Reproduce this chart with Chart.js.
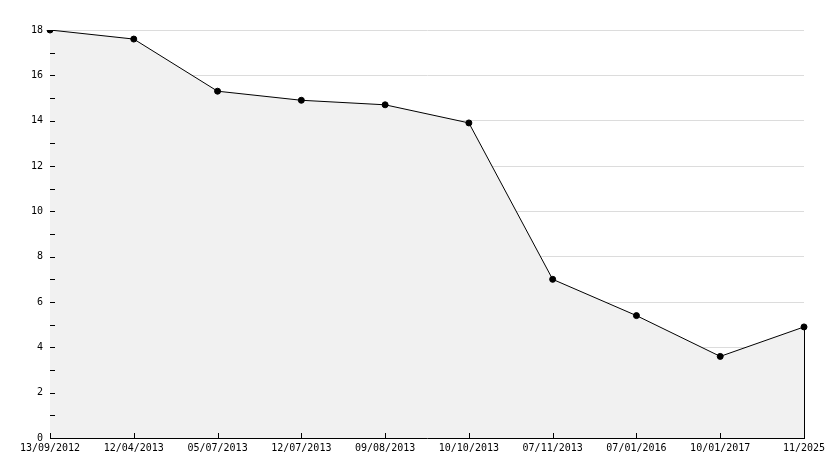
<!DOCTYPE html>
<html>
<head>
<meta charset="utf-8">
<script src="https://cdn.jsdelivr.net/npm/chart.js@4"></script>
<style>
  html, body { margin: 0; padding: 0; background: #fff; }
  #wrap { width: 834px; height: 468px; }
</style>
</head>
<body>
<div id="wrap"><canvas id="Grafico"></canvas></div>
<script>
'use strict';
// dados
const datas = ['13/09/2012', '12/04/2013', '05/07/2013', '12/07/2013', '09/08/2013',
  '10/10/2013', '07/11/2013', '07/01/2016', '10/01/2017', '11/2025'];
const valores = [18, 17.6, 15.3, 14.9, 14.7, 13.9, 7.0, 5.4, 3.6, 4.9];
const yMin = 0;
const yMax = 18;

const fonte = { family: 'DejaVu Sans Mono', size: 10 };

// tracinhos para dentro e linha final da area
const tracos = {
  id: 'tracos',
  afterDatasetsDraw(chart) {
    const ctx = chart.ctx;
    const x = chart.scales.x, y = chart.scales.y;
    const area = chart.chartArea;
    ctx.save();
    ctx.strokeStyle = '#000';
    ctx.lineWidth = 1;
    ctx.beginPath();
    y.ticks.forEach((t, i) => {
      const py = Math.round(y.getPixelForValue(t.value)) + 0.5;
      ctx.moveTo(area.left, py);
      ctx.lineTo(area.left + 5, py);
    });
    x.ticks.forEach((t, i) => {
      const px = Math.round(x.getPixelForTick(i)) + 0.5;
      ctx.moveTo(px, area.bottom);
      ctx.lineTo(px, area.bottom - 5);
    });
    const ult = valores.length - 1;
    const lx = Math.round(x.getPixelForValue(ult)) + 0.5;
    ctx.moveTo(lx, y.getPixelForValue(valores[ult]));
    ctx.lineTo(lx, area.bottom);
    ctx.stroke();
    ctx.restore();
  }
};

new Chart(document.getElementById('Grafico'), {
  type: 'line',
  data: {
    labels: datas,
    datasets: [{
      data: valores,
      borderColor: '#000',
      borderWidth: 1,
      backgroundColor: '#f1f1f1',
      fill: 'origin',
      tension: 0,
      pointRadius: 3,
      pointBackgroundColor: '#000',
      pointBorderColor: '#000',
      pointHoverRadius: 3
    }]
  },
  options: {
    responsive: true,
    maintainAspectRatio: false,
    animation: false,
    events: [],
    layout: { padding: { top: 30, right: 30, left: 0, bottom: 0 } },
    plugins: { legend: { display: false }, tooltip: { enabled: false } },
    scales: {
      x: {
        offset: false,
        afterFit(s) { s.height = 30; },
        grid: { display: false, drawTicks: false },
        border: { color: '#000', width: 1 },
        ticks: { color: '#000', font: fonte, padding: 4, maxRotation: 0, autoSkip: false }
      },
      y: {
        min: yMin,
        max: yMax,
        afterFit(s) { s.width = 50; },
        grid: {
          drawTicks: false,
          color: (c) => (c.tick && c.tick.value % 2 === 0 && c.tick.value !== 0) ? '#dcdcdc' : 'rgba(0,0,0,0)'
        },
        border: { color: '#000', width: 1 },
        ticks: {
          stepSize: 1,
          color: '#000',
          font: fonte,
          padding: 7,
          callback: (v) => (v % 2 === 0 ? v : '')
        }
      }
    }
  },
  plugins: [tracos]
});
</script>
</body>
</html>
